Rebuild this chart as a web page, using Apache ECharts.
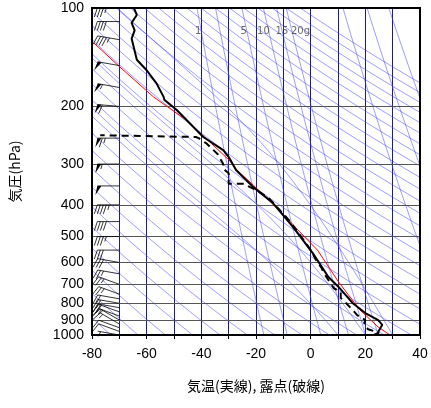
<!DOCTYPE html>
<html>
<head>
<meta charset="utf-8">
<script src="https://cdn.jsdelivr.net/npm/echarts@6/dist/echarts.min.js"></script>
<style>html,body{margin:0;padding:0;background:#fff}#main{width:431px;height:408px}</style>
</head>
<body>
<div id="main"></div>
<script>
// 気温プロファイル
var tempP = [1000,979,931,900,857,798,713,665,561,467,395,353,313,287,272,248,205,191,187,170,155,144,132,124,117,111,105,100];
var tempT = [24,24.7,26.2,24.7,20,15.3,10.2,6.5,0.7,-6.5,-13.8,-21,-27.3,-29.8,-32,-39.3,-49,-53.5,-53.8,-56.4,-60,-63.6,-64.7,-65.5,-64.4,-65.5,-63.6,-64.7];
// 露点プロファイル
var dewP = [1000,985,960,930,900,870,850,800,770,740,720,700,650,620,600,550,500,450,400,380,360,350,345,345,320,310,300,280,260,250,248,245];
var dewT = [23,25,21,19.5,20,17,16,13,11,11,8.5,7.5,5,3.8,2.5,0,-3.5,-7.5,-13,-15.5,-20,-23,-24,-30,-30,-32,-32,-34,-38,-41,-42,-77];
// 持ち上げ曲線（赤）
var parcelP = [1000,945,838,688,550,477,436,348,313,292,220,187,151,128];
var parcelT = [29,24.7,18,10.2,2.5,-4.7,-9,-21,-27,-29.8,-45.5,-57.5,-70,-79.3];
// 風
var windP = [1000,975,950,925,900,875,850,825,800,775,750,700,650,600,550,500,450,400,350,300,250,200,175,150,125,110,100];
var windSpd = [5,10,10,15,15,15,20,20,20,20,25,25,25,30,30,35,40,45,50,55,65,60,55,50,45,40,35];
var windDir = [280,290,290,300,300,290,290,280,280,280,290,290,280,280,270,270,270,270,270,270,270,275,280,280,280,270,270];
// 背景線のパラメータ
var thetaList = [];
for (var th = 190; th <= 520; th += 10) thetaList.push(th);
var mixList = [1,2,5,10,15,20,100,200,400];
var mixLabels = ['1','','5','10','15','20g','','',''];
var mixLabelShift = [0,0,0,1,6,18,0,0,0];
var moistList = [10,20,30];
var pTicks = [100,200,300,400,500,600,700,800,900,1000];

function zip(t, p) { return t.map(function (v, i) { return [v, p[i]]; }); }
function esat(t) { return 6.112 * Math.exp(17.67 * t / (t + 243.5)); }
function tdFromE(e) { var l = Math.log(e / 6.112); return 243.5 * l / (17.67 - l); }

var series = [];
var thin = {color: 'rgba(60,60,255,0.72)', width: 0.7};
thetaList.forEach(function (th) {
  var d = [];
  for (var p = 1000; p >= 100; p -= 10) d.push([th * Math.pow(p / 1000, 0.2857) - 273.15, p]);
  series.push({type: 'line', data: d, symbol: 'none', silent: true, lineStyle: thin, z: 1});
});
mixList.forEach(function (w, k) {
  var d = [];
  for (var p = 1000; p >= 100; p -= 10) d.push([tdFromE(w * p / (622 + w)), p]);
  series.push({type: 'line', data: d, symbol: 'none', silent: true, lineStyle: thin, z: 1});
  if (mixLabels[k]) {
    series.push({type: 'scatter', symbolSize: 0, silent: true, z: 5,
      data: [[tdFromE(w * 118 / (622 + w)), 118]],
      label: {show: true, formatter: mixLabels[k], position: 'left', distance: 0, offset: [mixLabelShift[k], 0],
        color: '#444', fontSize: 10, fontFamily: 'DejaVu Sans'}});
  }
});
moistList.forEach(function (tw) {
  var d = [], T = tw + 273.15;
  for (var p = 1000; p >= 100; p -= 5) {
    d.push([T - 273.15, p]);
    var es = esat(T - 273.15), rs = 0.622 * es / (p - es);
    var g = (287 * T + 2.5e6 * rs) / (1005 + 2.5e6 * 2.5e6 * rs * 0.622 / (287 * T * T)) / p;
    T -= g * 5;
  }
  series.push({type: 'line', data: d, symbol: 'none', silent: true, lineStyle: thin, z: 1});
});
// 格子線
series.push({type: 'line', data: [], silent: true, z: 2,
  markLine: {symbol: 'none', silent: true, label: {show: false},
    lineStyle: {color: '#555', width: 1, type: 'solid'},
    data: pTicks.map(function (p) { return {yAxis: p}; })}});
series.push({type: 'line', name: 'parcel', data: zip(parcelT, parcelP), symbol: 'none', lineStyle: {color: '#ff0000', width: 1}, z: 6});
series.push({type: 'line', name: 'temp', data: zip(tempT, tempP), symbol: 'none', lineStyle: {color: '#000', width: 2}, z: 7});
series.push({type: 'line', name: 'dew', data: zip(dewT, dewP), symbol: 'none', lineStyle: {color: '#000', width: 2, type: [7, 5]}, z: 7});
// 矢羽
series.push({type: 'custom', z: 8, silent: true, clip: false,
  data: windP.map(function (p, i) { return [-70, p, windSpd[i], windDir[i]]; }),
  renderItem: function (params, api) {
    var c = api.coord([api.value(0), api.value(1)]);
    var s = api.value(2), dr = api.value(3) * Math.PI / 180;
    var ux = Math.sin(dr), uy = -Math.cos(dr);
    var nx = uy, ny = -ux;
    var L = 22, ch = [];
    ch.push({type: 'line', shape: {x1: c[0], y1: c[1], x2: c[0] + ux * L, y2: c[1] + uy * L}, style: {stroke: '#000', lineWidth: 0.8}});
    var pos = 0, rem = Math.round(s / 5) * 5;
    function pt(t) { return [c[0] + ux * (L - t), c[1] + uy * (L - t)]; }
    while (rem >= 50) {
      var a = pt(pos), b = pt(pos + 4);
      ch.push({type: 'polygon', shape: {points: [a, [a[0] + nx * 9 + ux * 2, a[1] + ny * 9 + uy * 2], b]}, style: {fill: '#000'}});
      pos += 5; rem -= 50;
    }
    while (rem >= 10) {
      var a2 = pt(pos);
      ch.push({type: 'line', shape: {x1: a2[0], y1: a2[1], x2: a2[0] + nx * 9 + ux * 3, y2: a2[1] + ny * 9 + uy * 3}, style: {stroke: '#000', lineWidth: 0.8}});
      pos += 3; rem -= 10;
    }
    if (rem >= 5) {
      if (pos === 0) pos = 3;
      var a3 = pt(pos);
      ch.push({type: 'line', shape: {x1: a3[0], y1: a3[1], x2: a3[0] + nx * 5 + ux * 1.5, y2: a3[1] + ny * 5 + uy * 1.5}, style: {stroke: '#000', lineWidth: 0.8}});
    }
    return {type: 'group', children: ch};
  }});

var chart = echarts.init(document.getElementById('main'));
chart.setOption({
  animation: false,
  grid: {left: 90, right: 11, top: 8, bottom: 73, show: true, borderColor: '#000', borderWidth: 2, z: 9},
  xAxis: {type: 'value', min: -80, max: 40, interval: 10,
    name: '気温(実線), 露点(破線)', nameLocation: 'middle', nameGap: 44,
    nameTextStyle: {fontSize: 14, color: '#000', fontFamily: 'Noto Sans CJK JP'},
    axisLine: {show: false}, axisTick: {show: true, lineStyle: {color: '#000'}, length: 4},
    axisLabel: {fontSize: 14, color: '#000', margin: 12, fontFamily: 'Liberation Sans',
      formatter: function (v) { return v % 20 === 0 ? String(v) : ''; }},
    splitLine: {show: true, lineStyle: {color: '#1a1aa0', width: 1}}},
  yAxis: {type: 'log', logBase: 10, min: 100, max: 1000, inverse: true,
    name: '気圧(hPa)', nameLocation: 'middle', nameGap: 70, nameRotate: 90,
    nameTextStyle: {fontSize: 14, color: '#000', fontFamily: 'Noto Sans CJK JP'},
    axisLine: {show: false},
    axisTick: {show: true, customValues: pTicks, lineStyle: {color: '#000'}, length: 5},
    axisLabel: {customValues: pTicks, fontSize: 14, color: '#000', margin: 8, fontFamily: 'Liberation Sans',
      formatter: function (v) { return String(Math.round(v)); }},
    splitLine: {show: false}},
  series: series
});
</script>
</body>
</html>
